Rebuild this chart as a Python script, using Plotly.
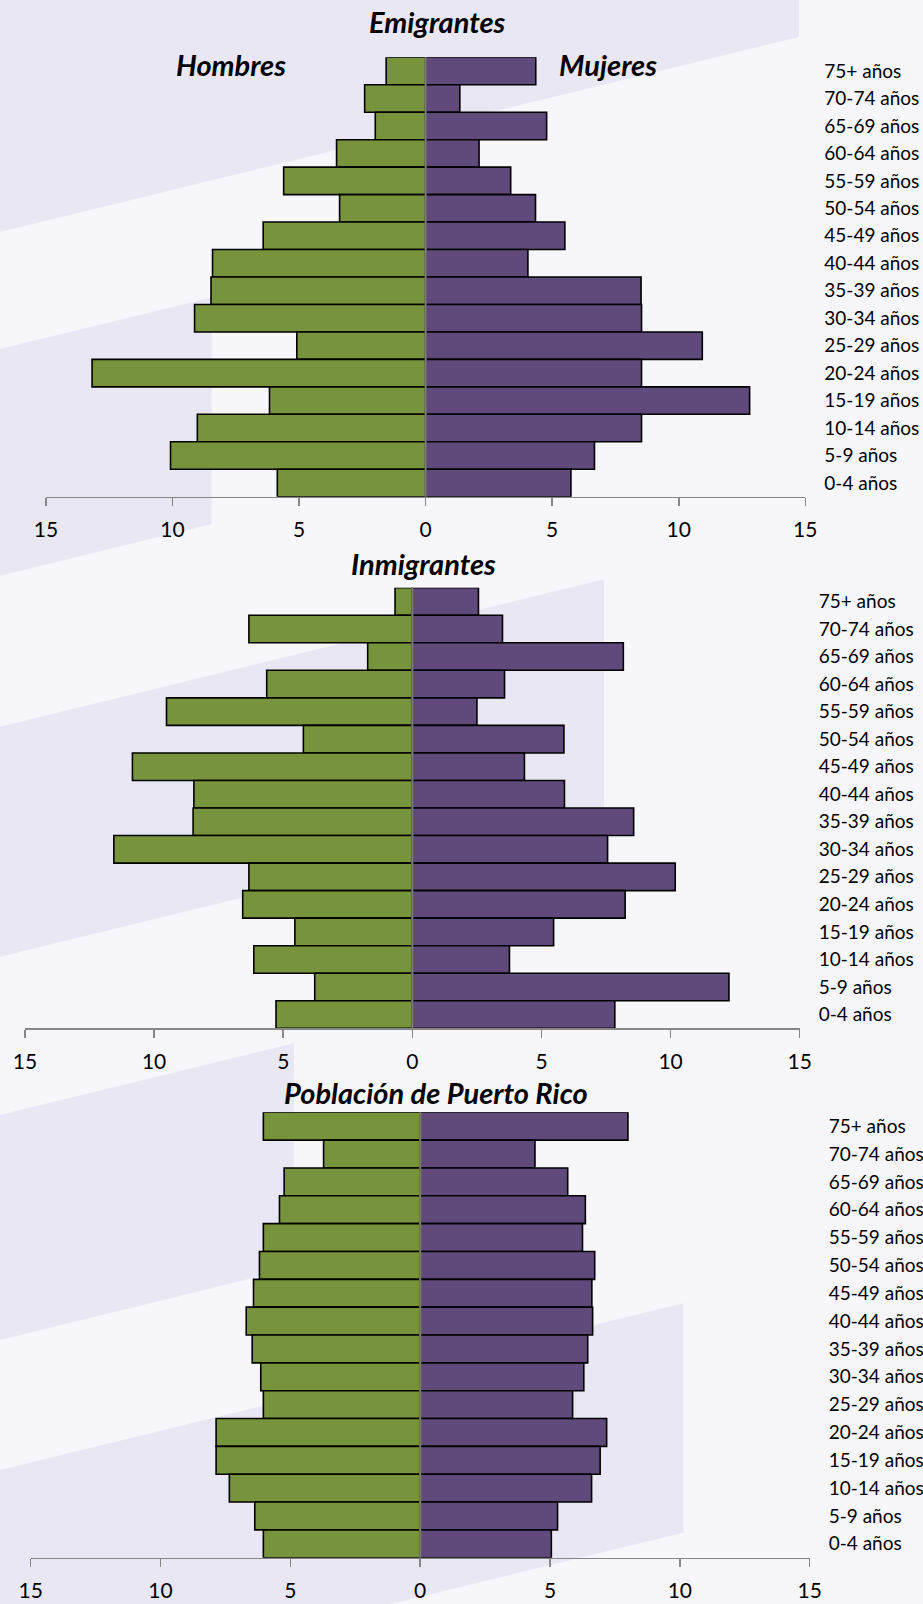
import plotly.graph_objects as go

W, H = 923, 1604

ages = ["75+ años", "70-74 años", "65-69 años", "60-64 años", "55-59 años",
        "50-54 años", "45-49 años", "40-44 años", "35-39 años", "30-34 años",
        "25-29 años", "20-24 años", "15-19 años", "10-14 años", "5-9 años", "0-4 años"]

emi_hombres = [1.56, 2.41, 1.99, 3.52, 5.61, 3.40, 6.42, 8.42, 8.48, 9.13, 5.09, 13.18, 6.17, 9.02, 10.08, 5.86]
emi_mujeres = [4.35, 1.35, 4.78, 2.11, 3.36, 4.34, 5.50, 4.04, 8.51, 8.53, 10.93, 8.53, 12.80, 8.53, 6.67, 5.74]

inm_hombres = [0.67, 6.33, 1.73, 5.64, 9.52, 4.22, 10.84, 8.46, 8.49, 11.56, 6.33, 6.57, 4.55, 6.14, 3.78, 5.28]
inm_mujeres = [2.56, 3.49, 8.17, 3.57, 2.50, 5.87, 4.34, 5.89, 8.57, 7.56, 10.18, 8.24, 5.47, 3.76, 12.26, 7.84]

pr_hombres = [6.04, 3.72, 5.24, 5.42, 6.04, 6.19, 6.42, 6.70, 6.47, 6.14, 6.04, 7.86, 7.86, 7.35, 6.37, 6.04]
pr_mujeres = [8.00, 4.42, 5.68, 6.36, 6.25, 6.72, 6.61, 6.64, 6.45, 6.30, 5.87, 7.18, 6.93, 6.60, 5.29, 5.05]

tick_vals = [-15, -10, -5, 0, 5, 10, 15]
tick_text = ["15", "10", "5", "0", "5", "10", "15"]

titles = ["Emigrantes", "Inmigrantes", "Población de Puerto Rico"]

GREEN = "#77933c"
PURPLE = "#604a7b"
BG = "#f6f6fb"
BAND = "#e8e7f3"
AXIS = "#868686"
FONT = "Lato"

# panel layout in pixels: (x_left, x_right, y_top, y_bottom)
panels = [(46, 805.3, 57.3, 496.7), (25, 799.7, 587.7, 1028.3), (30.7, 809.7, 1112.3, 1557.7)]
title_pos = [(437, 22), (423, 563), (435.5, 1092)]

def px(x):
    return x / W

def py(y):
    return 1 - y / H

data = [(emi_hombres, emi_mujeres), (inm_hombres, inm_mujeres), (pr_hombres, pr_mujeres)]

fig = go.Figure()
for i, (hom, muj) in enumerate(data):
    sfx = "" if i == 0 else str(i + 1)
    fig.add_trace(go.Bar(y=ages, x=[-v for v in hom], orientation="h",
                         marker=dict(color=GREEN, line=dict(color="black", width=1.6)),
                         xaxis="x" + sfx, yaxis="y" + sfx, name="Hombres", showlegend=False))
    fig.add_trace(go.Bar(y=ages, x=muj, orientation="h",
                         marker=dict(color=PURPLE, line=dict(color="black", width=1.6)),
                         xaxis="x" + sfx, yaxis="y" + sfx, name="Mujeres", showlegend=False))

layout = dict(width=W, height=H, autosize=False, margin=dict(l=0, r=0, t=0, b=0, pad=0),
              paper_bgcolor=BG, plot_bgcolor="rgba(0,0,0,0)",
              barmode="overlay", bargap=0,
              font=dict(family=FONT, color="black"))

for i, (xl, xr, yt, yb) in enumerate(panels):
    sfx = "" if i == 0 else str(i + 1)
    layout["xaxis" + sfx] = dict(domain=[px(xl), px(xr)], range=[-15, 15], automargin=False,
                                 anchor="y" + sfx, tickvals=tick_vals, ticktext=tick_text,
                                 showgrid=False, zeroline=False, showline=True,
                                 linecolor=AXIS, linewidth=1.5, ticks="outside",
                                 ticklen=8, tickwidth=1.5, tickcolor=AXIS,
                                 tickfont=dict(size=21, family=FONT, color="black"),
                                 ticklabelstandoff=6, fixedrange=True)
    layout["yaxis" + sfx] = dict(domain=[py(yb), py(yt)], anchor="x" + sfx, side="right",
                                 type="category", autorange="reversed", automargin=False,
                                 showgrid=False, zeroline=False, showline=False, ticks="",
                                 tickfont=dict(size=19, family=FONT, color="black"),
                                 ticklabelstandoff=18, fixedrange=True)

fig.update_layout(**layout)

# decorative background bands (pixel polygons)
bands = [
    [(0, 0), (799, 0), (799, 37), (0, 232)],
    [(0, 349), (211.7, 297.4), (211.7, 524), (0, 575.7)],
    [(0, 726.7), (604, 579.3), (604, 809.3), (0, 956.7)],
    [(0, 1115), (294, 1043.3), (294, 1268), (0, 1340)],
    [(0, 1470), (683.3, 1303.3), (683.3, 1532.7), (0, 1699)],
]
for poly in bands:
    path = "M " + " L ".join(f"{px(x):.5f},{py(y):.5f}" for x, y in poly) + " Z"
    fig.add_shape(type="path", path=path, xref="paper", yref="paper",
                  fillcolor=BAND, line=dict(width=0), layer="below")

# centre lines at zero
for i in range(3):
    sfx = "" if i == 0 else str(i + 1)
    fig.add_shape(type="line", x0=0, x1=0, y0=0, y1=1, xref="x" + sfx,
                  yref=("y" + sfx + " domain"), line=dict(color="#7f7f7f", width=2), layer="above")

for t, (tx, ty) in zip(titles, title_pos):
    fig.add_annotation(text=f"<b><i>{t}</i></b>", x=px(tx), y=py(ty), xref="paper", yref="paper",
                       showarrow=False, xanchor="center", yanchor="middle",
                       font=dict(size=29, family=FONT, color="black"))

for t, tx in [("Hombres", 231), ("Mujeres", 608)]:
    fig.add_annotation(text=f"<b><i>{t}</i></b>", x=px(tx), y=py(65), xref="paper", yref="paper",
                       showarrow=False, xanchor="center", yanchor="middle",
                       font=dict(size=29, family=FONT, color="black"))

page_js = (
    "document.documentElement.style.margin='0';"
    "document.documentElement.style.padding='0';"
    "document.documentElement.style.background='" + BG + "';"
    "document.body.style.margin='0';document.body.style.padding='0';"
    "document.body.style.background='" + BG + "';"
    "document.documentElement.style.overflow='hidden';"
    "document.body.style.overflow='hidden';"
)

fig.write_html("out.html",
               config={"displayModeBar": False, "staticPlot": True},
               post_script=page_js)
